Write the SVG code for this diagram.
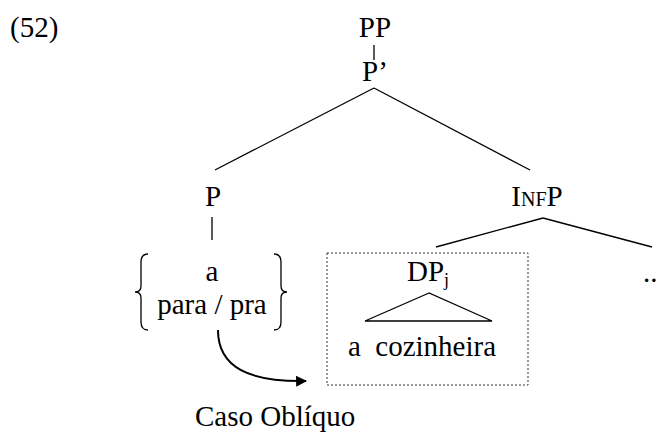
<svg xmlns="http://www.w3.org/2000/svg" width="668" height="432" viewBox="0 0 668 432">
  <style>
    text { font-family: "Liberation Serif", "Times New Roman", serif; font-size: 29px; fill: #000; }
    .c { text-anchor: middle; }
    .ln { stroke: #000; stroke-width: 1.3; fill: none; }
  </style>
  <defs>
    <marker id="arr" viewBox="0 0 10 10" refX="9" refY="5" markerWidth="11" markerHeight="11" markerUnits="userSpaceOnUse" orient="auto">
      <path d="M0,0 L10,5 L0,10 z" fill="#000"/>
    </marker>
  </defs>
  <rect width="668" height="432" fill="#fff"/>

  <text x="10" y="37">(52)</text>

  <g id="pp"><text class="c" x="375" y="37">PP</text></g>
  <g id="pbar"><text class="c" x="375" y="81">P’</text></g>
  <g id="p"><text class="c" x="213" y="206">P</text></g>
  <g id="infp"><text class="c" x="537" y="206">I<tspan font-size="20">NF</tspan>P</text></g>
  <g id="prep">
    <text class="c" x="212" y="281">a</text>
    <text class="c" x="212" y="314">para / pra</text>
    <path class="ln" d="M148,254 Q141,254 141,262 L141,286 Q141,292 135,292 Q141,292 141,298 L141,322 Q141,330 148,330"/>
    <path class="ln" d="M274,254 Q281,254 281,262 L281,286 Q281,292 287,292 Q281,292 281,298 L281,322 Q281,330 274,330"/>
  </g>
  <g id="dp">
    <rect x="327" y="253" width="201" height="132" fill="none" stroke="#333" stroke-width="1" stroke-dasharray="2,2"/>
    <text class="c" x="428" y="281">DP<tspan font-size="18" dy="5">j</tspan></text>
    <path class="ln" d="M429,293 L365,321 L492,321 Z"/>
    <text class="c" x="422" y="356" xml:space="preserve">a  cozinheira</text>
  </g>
  <g id="ellipsis"><text x="643" y="282">..</text></g>
  <g id="caso"><text x="195" y="426">Caso Oblíquo</text></g>

  <g id="connectors">
    <line class="ln" x1="374" y1="45" x2="374" y2="60"/>
    <line class="ln" x1="374" y1="88" x2="215" y2="170"/>
    <line class="ln" x1="374" y1="88" x2="530" y2="170"/>
    <line class="ln" x1="212" y1="217" x2="212" y2="240"/>
    <line class="ln" x1="543" y1="218" x2="436" y2="247"/>
    <line class="ln" x1="543" y1="218" x2="652" y2="247"/>
    <path d="M218,330 C218,368 250,382 306,381" stroke="#000" stroke-width="2" fill="none" marker-end="url(#arr)"/>
  </g>
</svg>
